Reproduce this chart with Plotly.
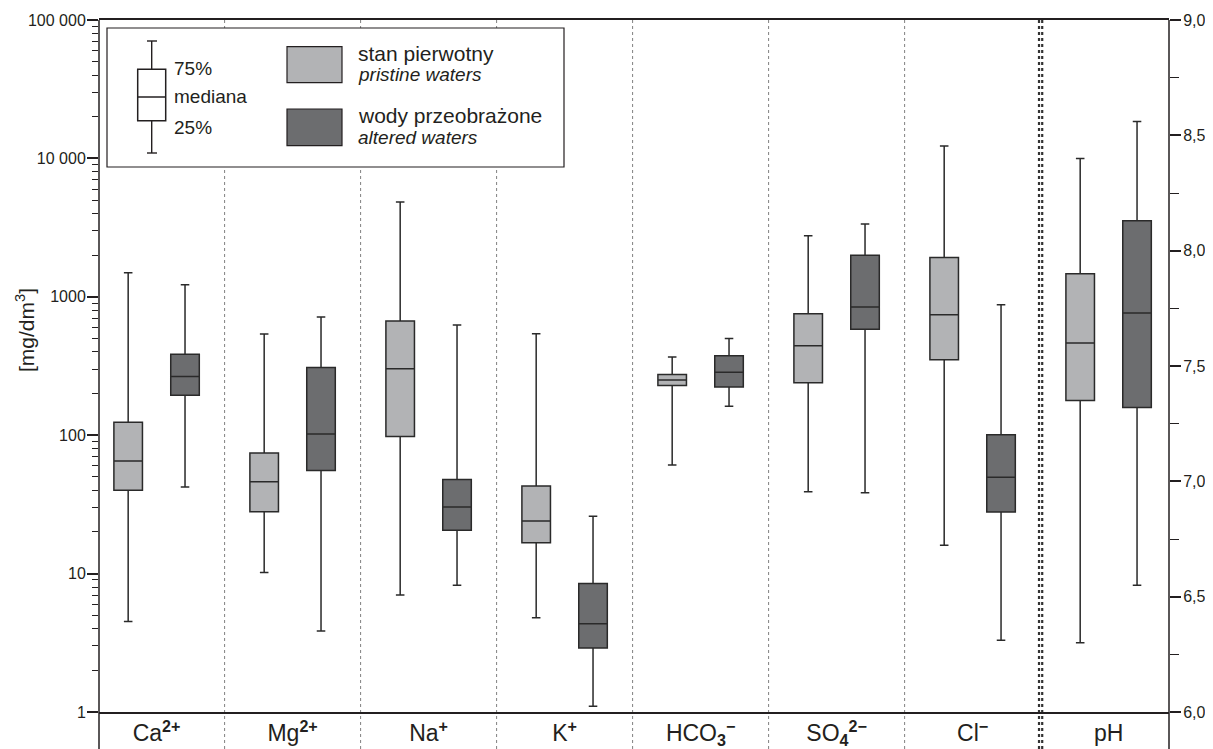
import plotly.graph_objects as go

# ---------------- data ----------------
categories = ["Ca<sup><b>2+</b></sup>", "Mg<sup><b>2+</b></sup>", "Na<sup><b>+</b></sup>", "K<sup><b>+</b></sup>",
              "HCO<sub><b>3</b></sub><sup><b>−</b></sup>", "SO<sub><b>4</b></sub><sup><b>2−</b></sup>",
              "Cl<sup><b>−</b></sup>", "pH"]

# ions [mg/dm3]  (Ca, Mg, Na, K, HCO3, SO4, Cl)
pristine_min = [4.5, 10.2, 7.0, 4.8, 61, 39, 16]
pristine_q1 = [40, 28, 98, 16.7, 229, 239, 351]
pristine_med = [65, 46, 302, 24, 251, 443, 741]
pristine_q3 = [124, 74.5, 668, 43, 275, 755, 1920]
pristine_max = [1490, 538, 4840, 541, 367, 2763, 12300]

altered_min = [42.3, 3.85, 8.24, 1.1, 162, 38.4, 3.3]
altered_q1 = [194, 55.5, 20.6, 2.9, 223, 582, 27.9]
altered_med = [266, 102, 30.3, 4.35, 285, 844, 49.7]
altered_q3 = [384, 309, 47.8, 8.47, 375, 1995, 100.7]
altered_max = [1224, 714, 625, 26, 499, 3357, 875]

# pH  [min, q1, median, q3, max]
ph_pristine = [6.30, 7.35, 7.60, 7.90, 8.40]
ph_altered = [6.55, 7.32, 7.73, 8.13, 8.56]

left_tickvals = [1, 10, 100, 1000, 10000, 100000]
left_ticktext = ["1", "10", "100", "1000", "10 000", "100 000"]
right_tickvals = [6.0, 6.5, 7.0, 7.5, 8.0, 8.5, 9.0]
right_ticktext = ["6,0", "6,5", "7,0", "7,5", "8,0", "8,5", "9,0"]

# ---------------- layout constants ----------------
PAGE_OFF = 8                     # default body margin of the html page
W, H = 1213 - PAGE_OFF, 749 - PAGE_OFF
# plot area in screen pixels
L, R, T, B = 99, 1169, 20, 712
XR = [-0.4235, 7.444]
OFF = 0.209
BOXW = 0.21
FONT = "Liberation Sans, Arial, sans-serif"
INK = "#231f20"
LIGHT = "#b2b3b5"
DARK = "#6c6d6f"


def px(x):
    return (x - L) / (R - L)


def py(y):
    return (B - y) / (B - T)


def dx(v):
    return (v - XR[0]) / (XR[1] - XR[0])


n_ions = len(pristine_med)
fig = go.Figure()

box_style = dict(line=dict(color="#2a2a2a", width=1.5), whiskerwidth=0.3,
                 width=BOXW, boxpoints=False, showlegend=False, hoverinfo="skip")

fig.add_trace(go.Box(x=[i - OFF for i in range(n_ions)], q1=pristine_q1, median=pristine_med,
                     q3=pristine_q3, lowerfence=pristine_min, upperfence=pristine_max,
                     fillcolor=LIGHT, name="stan pierwotny", **box_style))
fig.add_trace(go.Box(x=[i + OFF for i in range(n_ions)], q1=altered_q1, median=altered_med,
                     q3=altered_q3, lowerfence=altered_min, upperfence=altered_max,
                     fillcolor=DARK, name="wody przeobrażone", **box_style))
fig.add_trace(go.Box(x=[n_ions - OFF], q1=[ph_pristine[1]], median=[ph_pristine[2]],
                     q3=[ph_pristine[3]], lowerfence=[ph_pristine[0]], upperfence=[ph_pristine[4]],
                     fillcolor=LIGHT, yaxis="y2", name="pH pristine", **box_style))
fig.add_trace(go.Box(x=[n_ions + OFF], q1=[ph_altered[1]], median=[ph_altered[2]],
                     q3=[ph_altered[3]], lowerfence=[ph_altered[0]], upperfence=[ph_altered[4]],
                     fillcolor=DARK, yaxis="y2", name="pH altered", **box_style))

shapes = []
ybot = py(749)
# category separators
for i in range(len(categories) - 1):
    xs = dx(i + 0.5)
    if i < len(categories) - 2:
        shapes.append(dict(type="line", xref="paper", yref="paper", x0=xs, x1=xs, y0=ybot, y1=1,
                           line=dict(color="#808080", width=1, dash="dot"), layer="below"))
    else:
        for o in (-1.6, 1.6):
            xo = xs + o / (R - L)
            shapes.append(dict(type="line", xref="paper", yref="paper", x0=xo, x1=xo, y0=ybot, y1=1,
                               line=dict(color="#333333", width=2.2, dash="dot"), layer="below"))
# left / right axis lines extended downward
for xv in (0, 1):
    shapes.append(dict(type="line", xref="paper", yref="paper", x0=xv, x1=xv, y0=ybot, y1=1,
                       line=dict(color=INK, width=1.5)))

# legend frame
shapes.append(dict(type="rect", xref="paper", yref="paper", x0=px(107), x1=px(564),
                   y0=py(167), y1=py(28), fillcolor="white", line=dict(color=INK, width=1.2)))
# box-plot key
kx0, kx1, kxm = 137.7, 165.7, 151.7
shapes += [
    dict(type="line", xref="paper", yref="paper", x0=px(kxm), x1=px(kxm), y0=py(153), y1=py(41),
         line=dict(color=INK, width=1.4)),
    dict(type="line", xref="paper", yref="paper", x0=px(147), x1=px(157), y0=py(41), y1=py(41),
         line=dict(color=INK, width=1.4)),
    dict(type="line", xref="paper", yref="paper", x0=px(147), x1=px(157), y0=py(153), y1=py(153),
         line=dict(color=INK, width=1.4)),
    dict(type="rect", xref="paper", yref="paper", x0=px(kx0), x1=px(kx1), y0=py(120.7), y1=py(69.3),
         fillcolor="white", line=dict(color=INK, width=1.5)),
    dict(type="line", xref="paper", yref="paper", x0=px(kx0), x1=px(kx1), y0=py(97), y1=py(97),
         line=dict(color=INK, width=1.5)),
    dict(type="rect", xref="paper", yref="paper", x0=px(287), x1=px(342), y0=py(82.7), y1=py(46.7),
         fillcolor=LIGHT, line=dict(color=INK, width=1.2)),
    dict(type="rect", xref="paper", yref="paper", x0=px(287), x1=px(342), y0=py(145.7), y1=py(109),
         fillcolor=DARK, line=dict(color=INK, width=1.2)),
]

annotations = []


def txt(text, x, baseline, size, anchor="left"):
    yc = baseline - 0.35 * size
    annotations.append(dict(text=text, xref="paper", yref="paper", x=px(x), y=py(yc),
                            xanchor=anchor, yanchor="middle", showarrow=False,
                            font=dict(family=FONT, size=size, color=INK)))


txt("75%", 172, 75, 19)
txt("mediana", 172, 103.3, 19)
txt("25%", 172, 134, 19)
txt("stan pierwotny", 356, 61, 21)
txt("<i>pristine waters</i>", 356, 81.5, 19)
txt("wody przeobrażone", 356, 123.3, 21)
txt("<i>altered waters</i>", 356, 144.3, 19)

annotations.append(dict(text="[mg/dm<sup>3</sup>]", xref="paper", yref="paper", x=px(25), y=py(330),
                        xanchor="center", yanchor="middle", textangle=-90, showarrow=False,
                        font=dict(family=FONT, size=21, color=INK)))

minor_left = [m * 10 ** k for k in range(5) for m in range(2, 10)]
minor_right = [6.25, 6.75, 7.25, 7.75, 8.25, 8.75]

fig.update_layout(
    width=W, height=H,
    margin=dict(l=L - PAGE_OFF, r=W - (R - PAGE_OFF), t=T - PAGE_OFF, b=H - (B - PAGE_OFF),
                pad=0, autoexpand=False),
    paper_bgcolor="white", plot_bgcolor="white",
    boxmode="overlay", showlegend=False,
    font=dict(family=FONT, color=INK),
    xaxis=dict(range=XR, tickvals=list(range(len(categories))), ticktext=categories,
               ticks="", showgrid=False, zeroline=False, showline=True, mirror=True,
               linecolor=INK, linewidth=1.5, tickfont=dict(family=FONT, size=23, color=INK),
               ticklabelstandoff=0, fixedrange=True, automargin=False),
    yaxis=dict(type="log", range=[0, 5], tickvals=left_tickvals, ticktext=left_ticktext,
               ticks="outside", ticklen=11, tickwidth=1.5, tickcolor=INK,
               minor=dict(tickvals=minor_left, ticks="outside", ticklen=6, tickwidth=1.2, tickcolor=INK),
               showgrid=False, zeroline=False, showline=False, automargin=False,
               ticklabelstandoff=-2, tickfont=dict(family=FONT, size=16, color=INK)),
    yaxis2=dict(range=[6, 9], overlaying="y", side="right", anchor="x",
                tickvals=right_tickvals, ticktext=right_ticktext,
                ticks="outside", ticklen=11, tickwidth=1.5, tickcolor=INK,
                minor=dict(tickvals=minor_right, ticks="outside", ticklen=9, tickwidth=1.2, tickcolor=INK),
                showgrid=False, zeroline=False, showline=False, ticklabelstandoff=-1,
                automargin=False, tickfont=dict(family=FONT, size=16, color=INK)),
    shapes=shapes, annotations=annotations,
)

fig.write_html("out.html")
